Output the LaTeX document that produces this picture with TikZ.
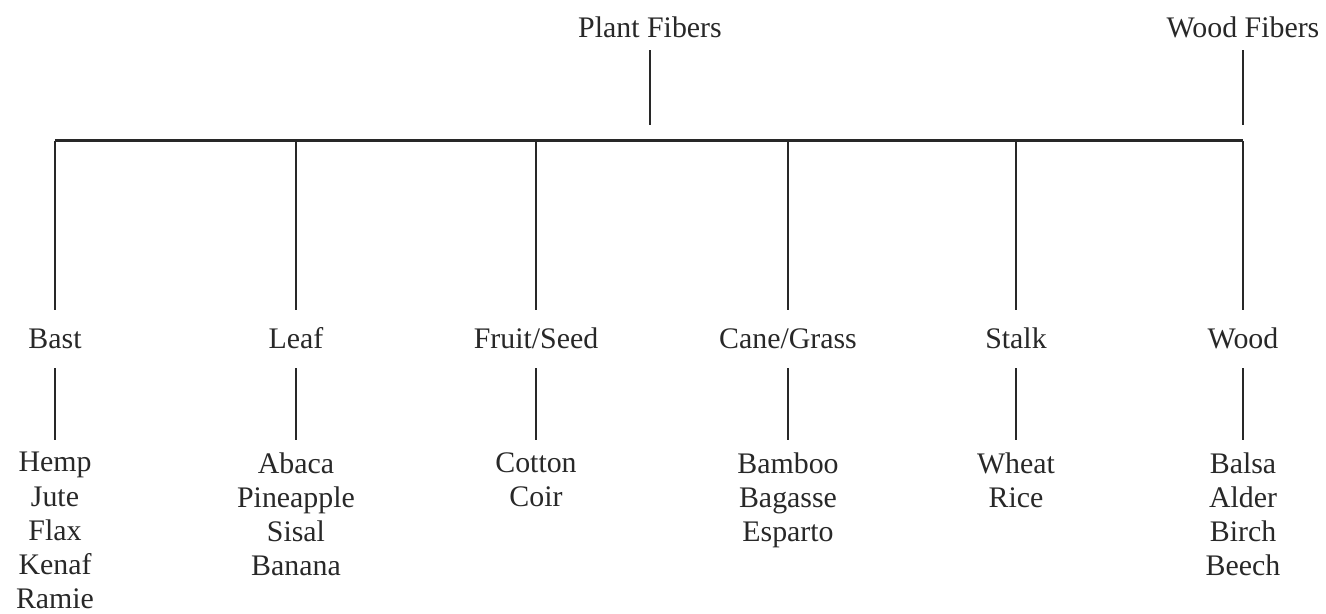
\documentclass[tikz,border=0pt]{standalone}
\usepackage{fontspec}
\setmainfont{Liberation Serif}
\usetikzlibrary{positioning}
\definecolor{fiberink}{RGB}{40,40,40}

\begin{document}
\begin{tikzpicture}[x=0.02cm,y=-0.02cm,line join=miter,
 every node/.style={text=fiberink,font=\fontsize{17pt}{19.4pt}\selectfont,inner xsep=0pt},
 fibertop/.style={text height=11.2pt,text depth=0pt,minimum height=0.88cm,inner ysep=0pt},
 fiberclass/.style={text height=11.2pt,text depth=0pt,minimum height=1.16cm,inner ysep=0pt},
 fiberlist/.style={align=center,anchor=north,inner ysep=0pt},
 link/.style={draw=fiberink,line width=1.25pt},
 listlink/.style={link,shorten >=0.24cm}]
 \useasboundingbox (0,0) rectangle (1326,613);
 \node[fibertop] (plant) at (650,28) {Plant Fibers};
 \node[fibertop] (woodfib) at (1243,28) {Wood Fibers};
 \coordinate (plantend) at (650,125);
 \coordinate (woodend) at (1243,125);
 \draw[link] (plant) -- (plantend);
 \draw[link] (woodfib) -- (woodend);
 \coordinate (barbast) at (55,141);
 \coordinate (barleaf) at (296,141);
 \coordinate (barfruit) at (536,141);
 \coordinate (barcane) at (788,141);
 \coordinate (barstalk) at (1016,141);
 \coordinate (barwood) at (1243,141);
 \node[fiberclass] (bast) at (55,339) {Bast};
 \node[fiberclass] (leaf) at (296,339) {Leaf};
 \node[fiberclass] (fruit) at (536,339) {Fruit/Seed};
 \node[fiberclass] (cane) at (788,339) {Cane/Grass};
 \node[fiberclass] (stalk) at (1016,339) {Stalk};
 \node[fiberclass] (wood) at (1243,339) {Wood};
 \draw[link] (barbast |- 0,140.5) -- (barwood |- 0,140.5);
 \draw[link] (barbast) -- (bast);
 \draw[link] (barleaf) -- (leaf);
 \draw[link] (barfruit) -- (fruit);
 \draw[link] (barcane) -- (cane);
 \draw[link] (barstalk) -- (stalk);
 \draw[link] (barwood) -- (wood);
 \node[fiberlist] (bastlist) at (55,452) {Hemp\\Jute\\Flax\\Kenaf\\Ramie};
 \node[fiberlist] (leaflist) at (296,452) {Abaca\\Pineapple\\Sisal\\Banana};
 \node[fiberlist] (fruitlist) at (536,452) {Cotton\\Coir};
 \node[fiberlist] (canelist) at (788,452) {Bamboo\\Bagasse\\Esparto};
 \node[fiberlist] (stalklist) at (1016,452) {Wheat\\Rice};
 \node[fiberlist] (woodlist) at (1243,452) {Balsa\\Alder\\Birch\\Beech};
 \draw[listlink] (bast) -- (bastlist);
 \draw[listlink] (leaf) -- (leaflist);
 \draw[listlink] (fruit) -- (fruitlist);
 \draw[listlink] (cane) -- (canelist);
 \draw[listlink] (stalk) -- (stalklist);
 \draw[listlink] (wood) -- (woodlist);
\end{tikzpicture}
\end{document}
